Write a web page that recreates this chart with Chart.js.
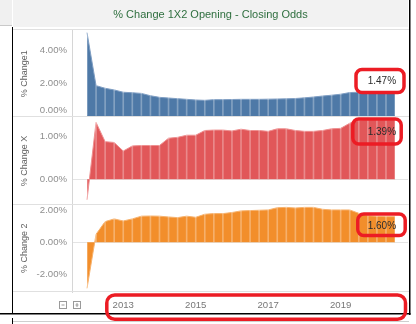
<!DOCTYPE html>
<html>
<head>
<meta charset="utf-8">
<script src="https://cdn.jsdelivr.net/npm/chart.js@4.4.1/dist/chart.umd.min.js"></script>
<style>
  html, body { margin: 0; padding: 0; background: #fff; }
  canvas { display: block; }
</style>
</head>
<body>
<canvas id="odds" width="416" height="324"></canvas>
<script>
// quarterly series, 2012 Q1 .. 2020 Q3
const QUARTERS = [
  '2012 Q1', '2012 Q2', '2012 Q3', '2012 Q4',
  '2013 Q1', '2013 Q2', '2013 Q3', '2013 Q4',
  '2014 Q1', '2014 Q2', '2014 Q3', '2014 Q4',
  '2015 Q1', '2015 Q2', '2015 Q3', '2015 Q4',
  '2016 Q1', '2016 Q2', '2016 Q3', '2016 Q4',
  '2017 Q1', '2017 Q2', '2017 Q3', '2017 Q4',
  '2018 Q1', '2018 Q2', '2018 Q3', '2018 Q4',
  '2019 Q1', '2019 Q2', '2019 Q3', '2019 Q4',
  '2020 Q1', '2020 Q2', '2020 Q3',
]

const CHANGE_1 = [
  5.05, 1.84, 1.68, 1.58, 1.44, 1.41, 1.37, 1.23, 1.13, 1.09,
  1.05, 1.01, 0.97, 0.95, 0.99, 0.99, 1.00, 1.01, 1.01, 1.01,
  1.02, 1.03, 1.04, 1.06, 1.10, 1.15, 1.21, 1.26, 1.32, 1.42,
  1.44, 1.45, 1.46, 1.47, 1.47,
]
const CHANGE_X = [
  -0.48, 1.33, 0.88, 0.86, 0.66, 0.78, 0.79, 0.79, 0.79, 0.96,
  0.98, 1.03, 1.03, 1.14, 1.15, 1.15, 1.13, 1.17, 1.14, 1.14,
  1.12, 1.18, 1.18, 1.14, 1.12, 1.12, 1.14, 1.18, 1.19, 1.31,
  1.38, 1.39, 1.39, 1.39, 1.39,
]
const CHANGE_2 = [
  -2.88, 0.50, 1.29, 1.46, 1.33, 1.46, 1.63, 1.64, 1.63, 1.58,
  1.54, 1.63, 1.56, 1.75, 1.79, 1.79, 1.86, 1.96, 1.98, 2.00,
  2.02, 2.16, 2.18, 2.14, 2.18, 2.18, 2.06, 2.02, 2.02, 2.02,
  1.81, 1.66, 1.62, 1.60, 1.60,
]

const YEAR_TICKS = [2013, 2015, 2017, 2019]
const TICKS_1 = [0, 2, 4]
const TICKS_X = [0, 1]
const TICKS_2 = [-2, 0, 2]

const TITLE = '% Change 1X2 Opening - Closing Odds'

// styling
const FAMILY = '"Liberation Sans", Arial, sans-serif'
const TICK_COLOR = '#8e8e8e'
const AXIS_TITLE = '#5f5f5f'
const ZERO_LINE = '#e4e4e4'
const SEP_LINE = '#e0e0e0'
const AXIS_LINE = '#d6d6d6'
const MARK = '#ec1c24'
const DROP = 'rgba(255, 255, 255, 0.3)'

const PANELS = [
  { id: 'y1', title: '% Change1',  data: CHANGE_1, ticks: TICKS_1, min: -0.08, max: 5.21,
    fill: '#4e79a7', edge: '#7f9ec3', weight: 3, labelDy: -10, liftZero: true },
  { id: 'y2', title: '% Change X', data: CHANGE_X, ticks: TICKS_X, min: -0.593, max: 1.448,
    fill: '#e15759', edge: '#ee8f90', weight: 2, labelDy: 12 },
  { id: 'y3', title: '% Change 2', data: CHANGE_2, ticks: TICKS_2, min: -3.11, max: 2.35,
    fill: '#f28e2b', edge: '#f7b26d', weight: 1, labelDy: 10 },
]

const quarterX = q => {
  const [y, n] = q.split(' Q')
  return +y + (n - 1) / 4
}
const points = values => values.map((v, i) => ({ x: quarterX(QUARTERS[i]), y: v }))
const pct = v => v.toFixed(2) + '%'

function yScale(p) {
  return {
    type: 'linear',
    position: 'left',
    stack: 'panes',
    stackWeight: 1,
    weight: p.weight,
    min: p.min,
    max: p.max,
    afterFit: s => { s.width = 59 },
    afterBuildTicks: s => { s.ticks = p.ticks.map(v => ({ value: v })) },
    grid: {
      drawTicks: false,
      color: c => (c.tick && c.tick.value === 0 ? ZERO_LINE : 'transparent'),
    },
    border: { color: AXIS_LINE },
    ticks: {
      padding: 5,
      color: TICK_COLOR,
      font: { family: FAMILY, size: 9.6 },
      // the pane-bottom zero label sits a little higher, as in Tableau
      callback: v => (p.liftZero && v === 0 ? [pct(v), ''] : pct(v)),
    },
    title: {
      display: true,
      text: p.title,
      color: AXIS_TITLE,
      font: { family: FAMILY, size: 9 },
      padding: { top: 6.6, bottom: 0 },
    },
  }
}

const scales = {
  x: {
    type: 'linear',
    offset: false,
    min: 2011.586,
    max: 2020.858,
    afterFit: s => { s.height = 21 },
    afterBuildTicks: s => { s.ticks = YEAR_TICKS.map(v => ({ value: v })) },
    grid: { display: false },
    border: { display: false },
    ticks: { padding: 0, color: '#777', font: { family: FAMILY, size: 9.6 }, callback: v => String(v) },
  },
}
PANELS.forEach(p => { scales[p.id] = yScale(p) })

const datasets = [
  ...PANELS.map(p => ({
    type: 'line',
    data: points(p.data),
    yAxisID: p.id,
    fill: 'origin',
    backgroundColor: p.fill,
    borderColor: p.edge,
    borderWidth: 1,
    pointRadius: 0,
    tension: 0,
    order: 2,
  })),
  // thin white drop lines at every quarter, like Tableau's area marks
  ...PANELS.map(p => ({
    type: 'bar',
    data: points(p.data),
    yAxisID: p.id,
    backgroundColor: DROP,
    borderWidth: 0,
    barThickness: 1,
    grouped: false,
    order: 1,
  })),
]

const frame = {
  id: 'frame',
  beforeDraw(chart) {
    const { ctx } = chart
    ctx.save()
    ctx.fillStyle = '#fff'
    ctx.fillRect(0, 0, chart.width, chart.height)
    ctx.fillStyle = '#f0f0f0'
    ctx.fillRect(0, 0, 12, 25)
    ctx.fillStyle = '#c9c9c9'
    ctx.fillRect(0, 25, 12, 1)
    ctx.fillStyle = '#f2f2f2'
    ctx.fillRect(13, 0, 395, 27)
    ctx.fillStyle = '#000'
    ctx.fillRect(12, 27, 1, 287)
    ctx.fillRect(409, 0, 1.5, 315)
    ctx.fillRect(0, 313, 410.5, 1.5)
    ctx.fillRect(12, 318, 1, 6)
    ctx.fillStyle = '#cfcfcf'
    ctx.fillRect(13, 321, 396, 1)
    ctx.restore()
  },
  beforeDatasetsDraw(chart) {
    const { ctx, chartArea } = chart
    ctx.save()
    ctx.fillStyle = SEP_LINE
    const ys = PANELS.map(p => chart.scales[p.id].top).concat(chartArea.bottom)
    ys.forEach(y => ctx.fillRect(13, Math.round(y) - 1, 396, 1))
    ctx.restore()
  },
  afterDatasetsDraw(chart) {
    const { ctx } = chart
    ctx.save()
    ctx.font = '10px ' + FAMILY
    ctx.fillStyle = '#2b2b2b'
    ctx.textAlign = 'right'
    ctx.textBaseline = 'middle'
    PANELS.forEach((p, i) => {
      const meta = chart.getDatasetMeta(i)
      const last = meta.data[meta.data.length - 1]
      ctx.fillText(pct(p.data[p.data.length - 1]), last.x + 1, last.y + p.labelDy)
    })
    // collapse / expand buttons under the axis
    ctx.strokeStyle = '#9a9a9a'
    ctx.lineWidth = 1
    ;[59.5, 73.5].forEach((bx, k) => {
      ctx.strokeRect(bx, 301.5, 7, 7)
      ctx.beginPath()
      ctx.moveTo(bx + 2, 305); ctx.lineTo(bx + 5, 305)
      if (k === 1) { ctx.moveTo(bx + 3.5, 303); ctx.lineTo(bx + 3.5, 307) }
      ctx.stroke()
    })
    ctx.restore()
  },
  afterDraw(chart) {
    // red highlight boxes
    const { ctx } = chart
    ctx.save()
    ctx.strokeStyle = MARK
    ctx.lineWidth = 3.5
    const boxes = [
      [356, 69.5, 48, 23, 6],
      [352.8, 119, 48.4, 25, 6],
      [357.8, 214, 47.4, 21.6, 6],
      [106.8, 295, 298.7, 24.3, 8],
    ]
    boxes.forEach(([x, y, w, h, r]) => {
      ctx.beginPath()
      ctx.roundRect(x, y, w, h, r)
      ctx.stroke()
    })
    ctx.restore()
  },
}

new Chart(document.getElementById('odds'), {
  type: 'line',
  data: { datasets },
  options: {
    responsive: false,
    animation: false,
    events: [],
    layout: { padding: { left: 13, right: 8, top: 0, bottom: 11 } },
    plugins: {
      legend: { display: false },
      tooltip: { enabled: false },
      title: {
        display: true,
        text: TITLE,
        color: '#2f6f3f',
        font: { family: FAMILY, size: 11, weight: 'normal' },
        padding: { top: 8, bottom: 8.8 },
      },
    },
    scales,
  },
  plugins: [frame],
})
</script>
</body>
</html>
